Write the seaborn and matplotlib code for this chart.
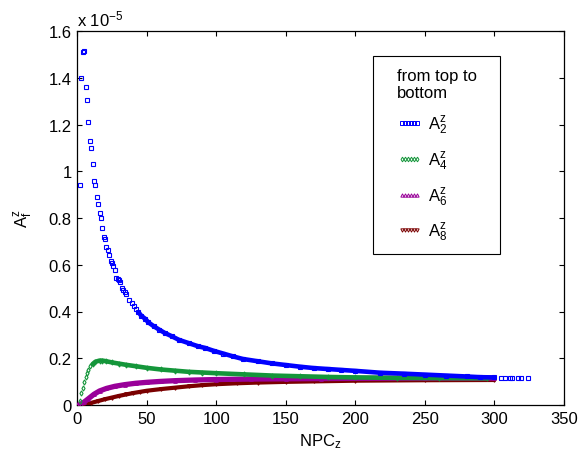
import numpy as np
import pandas as pd
import seaborn as sns
import matplotlib
matplotlib.use("Agg")
import matplotlib.pyplot as plt
from matplotlib.lines import Line2D
from matplotlib.patches import Rectangle
from matplotlib.ticker import FuncFormatter, MultipleLocator

# ---- data (values in units of 1e-5) ----
blue_x = [2,3,4,5,6,7,8,9,10,11,12,13,14,15,16,17,18,19,20,21,22,23,24,25,26,27,28,29,30,31,32,33,34,35,
          37,39,41,42,44,46,49,51,55,59,63,68,73,80,87,92,98,105,112,119,130,140,150,160,170,180,190,200,
          218,235,250,265,280,290,300,
          305,308,311,313,317,319,324]
blue_y = [0.94,1.40,1.51,1.515,1.36,1.305,1.21,1.13,1.10,1.03,0.96,0.94,0.89,0.86,0.82,0.80,0.757,0.719,0.71,0.677,
          0.663,0.642,0.615,0.607,0.593,0.579,0.543,0.540,0.535,0.527,0.499,0.490,0.483,0.476,
          0.45,0.436,0.422,0.411,0.397,0.382,0.368,0.354,0.337,0.322,0.308,0.294,0.279,0.265,0.251,0.244,
          0.232,0.220,0.208,0.197,0.187,0.178,0.171,0.164,0.158,0.154,0.150,0.146,0.138,0.134,0.130,0.126,
          0.122,0.119,0.118,
          0.117,0.117,0.117,0.116,0.116,0.116,0.116]

green_x = [2,3,4,5,6,7,8,9,11,13,16,18,21,25,30,35,42,50,60,70,80,90,100,120,140,160,180,200,230,260,295]
green_y = [0.016,0.051,0.071,0.097,0.118,0.136,0.150,0.165,0.175,0.185,0.19,0.19,0.187,0.182,0.177,0.172,
           0.166,0.159,0.152,0.147,0.142,0.139,0.136,0.131,0.126,0.123,0.120,0.118,0.116,0.115,0.114]

purple_x = [1,3,5,8,12,16,21,27,34,42,50,60,70,85,100,125,150,175,200,250,300]
purple_y = [0.0,0.006,0.013,0.027,0.046,0.060,0.071,0.080,0.087,0.093,0.097,0.101,0.104,0.107,0.109,
            0.111,0.112,0.113,0.114,0.115,0.115]

maroon_x = [1,5,10,15,20,25,30,35,40,45,50,60,70,80,90,100,115,130,150,170,200,250,300]
maroon_y = [0.0,0.003,0.009,0.017,0.025,0.032,0.039,0.045,0.051,0.056,0.061,0.068,0.074,0.080,0.085,
            0.089,0.093,0.096,0.099,0.101,0.104,0.106,0.107]

labels = [r"$\mathregular{A_2^z}$", r"$\mathregular{A_4^z}$", r"$\mathregular{A_6^z}$", r"$\mathregular{A_8^z}$"]
x_ticks = [0, 50, 100, 150, 200, 250, 300, 350]
y_ticks = [0, 0.2, 0.4, 0.6, 0.8, 1.0, 1.2, 1.4, 1.6]

# ---- style ----
plt.rcParams["font.family"] = ["Liberation Sans", "DejaVu Sans"]
plt.rcParams["font.size"] = 12
plt.rcParams["mathtext.fontset"] = "custom"
plt.rcParams["mathtext.rm"] = "Liberation Sans"

FS = 12
colors = ["#0000ff", "#14963a", "#990099", "#7a0000"]
markers = ["s", "d", "^", "v"]
dense_from = [44, 11, 1, 1]
dense_to = [300, 295, 300, 300]
lws = [3.3, 3.3, 3.8, 3.0]
zs = [6, 5, 4, 3]

fig = plt.figure(figsize=(5.79, 4.64), dpi=100)
ax = fig.add_axes([77.3/579, 1-406/464, 486.5/579, 374/464])

series = [(blue_x, blue_y), (green_x, green_y), (purple_x, purple_y), (maroon_x, maroon_y)]
for (xs, ys), c, m, d0, d1, lw, z in zip(series, colors, markers, dense_from, dense_to, lws, zs):
    df = pd.DataFrame({"x": xs, "y": ys})
    dense = df[(df.x >= d0) & (df.x <= d1)]
    sns.lineplot(data=dense, x="x", y="y", ax=ax, color=c, linewidth=lw, sort=False,
                 estimator=None, zorder=z, solid_capstyle="round")
    sns.lineplot(data=df, x="x", y="y", ax=ax, color=c, linestyle="", marker=m, markersize=2.6,
                 markerfacecolor="none", markeredgecolor=c, markeredgewidth=0.8,
                 sort=False, estimator=None, zorder=z)

ax.set_xlim(0, 350)
ax.set_ylim(0, 1.6)
ax.set_xticks(x_ticks)
ax.set_yticks(y_ticks)
fmt = FuncFormatter(lambda v, p: "%g" % round(v, 3))
ax.xaxis.set_major_formatter(fmt)
ax.yaxis.set_major_formatter(fmt)
ax.tick_params(direction="in", top=True, right=True, length=3.5, width=0.8, labelsize=FS, pad=4)
for s in ax.spines.values():
    s.set_linewidth(0.9)
ax.set_xlabel(r"NPC$\mathregular{_z}$", fontsize=FS, labelpad=4)
ax.set_ylabel(r"$\mathregular{A_f^z}$", fontsize=FS, labelpad=10)
ax.text(0.0, 1.008, r"x $\mathregular{10^{-5}}$", transform=ax.transAxes, ha="left", va="bottom", fontsize=FS)

# legend frame and contents
ax.add_patch(Rectangle((0.608, 0.404), 0.261, 0.529, transform=ax.transAxes, facecolor="white",
                       edgecolor="black", linewidth=0.8, zorder=8))
handles = [Line2D([], [], linestyle="none", marker=m, markersize=2.4, markerfacecolor="none",
                  markeredgecolor=c, markeredgewidth=0.7, color=c) for c, m in zip(colors, markers)]
leg = ax.legend(handles, labels, title="from top to\nbottom", alignment="left", loc="upper left",
                bbox_to_anchor=(0.658, 0.902), frameon=False, borderpad=0, numpoints=6,
                handlelength=1.45, handletextpad=0.4, labelspacing=0.8, fontsize=FS, title_fontsize=FS,
                borderaxespad=0)
leg.set_zorder(9)

fig.savefig("out.png", dpi=100)
